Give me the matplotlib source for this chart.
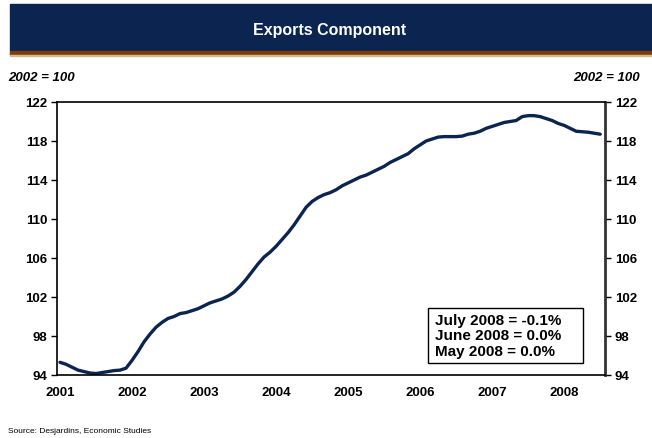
import numpy as np
import matplotlib
matplotlib.use('Agg')
import matplotlib.pyplot as plt
from matplotlib.patches import Rectangle

plt.rcParams['font.family'] = ['Liberation Sans', 'DejaVu Sans']

# Indice mensuel, janvier 2001 a juillet 2008 (2002 = 100)
exports = [
    95.3, 95.1, 94.8, 94.5, 94.35, 94.2, 94.15, 94.25, 94.35, 94.45, 94.5, 94.7,
    95.5, 96.4, 97.4, 98.2, 98.9, 99.4, 99.8, 100.0, 100.3, 100.4, 100.6, 100.8,
    101.1, 101.4, 101.6, 101.8, 102.1, 102.5, 103.1, 103.8, 104.6, 105.4, 106.1, 106.6,
    107.2, 107.9, 108.6, 109.4, 110.3, 111.2, 111.8, 112.2, 112.5, 112.7, 113.0, 113.4,
    113.7, 114.0, 114.3, 114.5, 114.8, 115.1, 115.4, 115.8, 116.1, 116.4, 116.7, 117.2,
    117.6, 118.0, 118.2, 118.4, 118.45, 118.45, 118.45, 118.5, 118.7, 118.8, 119.0, 119.3,
    119.5, 119.7, 119.9, 120.0, 120.1, 120.5, 120.6, 120.6, 120.5, 120.3, 120.1, 119.8,
    119.6, 119.3, 119.0, 118.95, 118.9, 118.8, 118.7,
]
years = ['2001', '2002', '2003', '2004', '2005', '2006', '2007', '2008']
yticks = [94, 98, 102, 106, 110, 114, 118, 122]
box_lines = ['July 2008 = -0.1%', 'June 2008 = 0.0%', 'May 2008 = 0.0%']

navy = '#0b2550'
months = np.arange(len(exports))

fig = plt.figure(figsize=(6.52, 4.39), dpi=100)

# Bandeau du titre
fig.patches.append(Rectangle((10 / 652, 1 - 52 / 439), 642 / 652, 47 / 439,
                             transform=fig.transFigure, color=navy, zorder=0))
fig.patches.append(Rectangle((10 / 652, 1 - 56 / 439), 642 / 652, 4 / 439,
                             transform=fig.transFigure, color='#7b3d04', zorder=0))
fig.patches.append(Rectangle((10 / 652, 1 - 57 / 439), 642 / 652, 1 / 439,
                             transform=fig.transFigure, color='#d8b890', zorder=0))
fig.text(330 / 652, 1 - 30 / 439, 'Exports Component', color='white', fontsize=11.5,
         fontweight='bold', ha='center', va='center')

ax = fig.add_axes([57 / 652, 1 - 376 / 439, 548 / 652, 273 / 439])
ax.plot(months, exports, color=navy, lw=2.4, solid_capstyle='round')

ax.set_ylim(94, 122)
ax.set_xlim(-0.5, 90.8)
ax.set_yticks(yticks)
ax.set_yticklabels([str(v) for v in yticks], fontsize=9.5, fontweight='bold')
ax.set_xticks(np.arange(0, 85, 12))
ax.set_xticklabels(years, fontsize=9.5, fontweight='bold')
ax.tick_params(axis='x', length=0, pad=8)
ax.tick_params(axis='y', direction='out', length=4, width=1, pad=3,
               left=True, right=True, labelleft=True, labelright=True)
for s in ax.spines.values():
    s.set_linewidth(1.2)
ax.spines['right'].set_color('#333333')
ax.spines['right'].set_linewidth(2)

fig.text(8 / 652, 1 - 78 / 439, '2002 = 100', fontsize=9.5, fontweight='bold',
         style='italic', ha='left', va='center')
fig.text(640 / 652, 1 - 78 / 439, '2002 = 100', fontsize=9.5, fontweight='bold',
         style='italic', ha='right', va='center')

# Encadre des variations mensuelles
ax.add_patch(Rectangle((0.677, 0.044), 0.283, 0.201, transform=ax.transAxes,
                       fc='white', ec='black', lw=1, zorder=3))
ax.text(0.690, 0.145, '\n'.join(box_lines), transform=ax.transAxes, fontsize=11,
        fontweight='bold', ha='left', va='center', linespacing=1.12, zorder=4)

fig.text(8 / 652, 1 - 432 / 439, 'Source: Desjardins, Economic Studies', fontsize=6,
         ha='left', va='center')

fig.savefig('out.png', dpi=100)
